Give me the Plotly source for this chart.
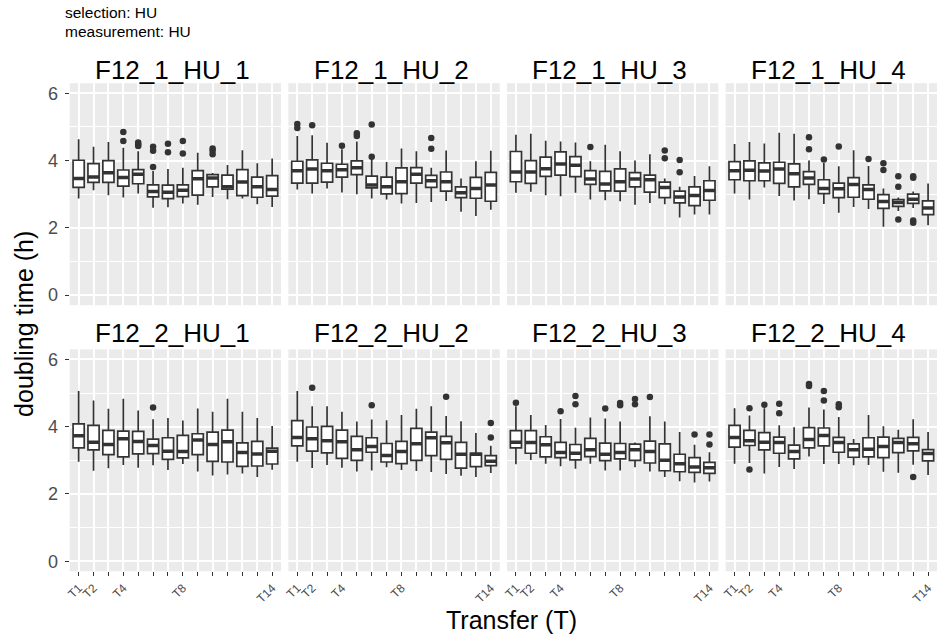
import plotly.graph_objects as go

# ---- data -------------------------------------------------------------
transfers = [f"T{i}" for i in range(1, 15)]
shown_labels = ["T1", "T2", "T4", "T8", "T14"]
panels = ["F12_1_HU_1", "F12_1_HU_2", "F12_1_HU_3", "F12_1_HU_4",
          "F12_2_HU_1", "F12_2_HU_2", "F12_2_HU_3", "F12_2_HU_4"]

# whisker ends, quartiles and medians of doubling time (h), one row per panel
upper_whisker = [
    [4.63, 4.41, 4.55, 4.38, 4.28, 3.69, 3.75, 3.79, 4.23, 3.63, 3.87, 4.31, 3.92, 4.06],
    [4.73, 4.75, 4.53, 4.34, 4.57, 4.04, 3.96, 4.36, 4.28, 3.79, 4.30, 3.47, 3.98, 4.29],
    [4.77, 4.80, 4.59, 4.57, 4.54, 3.98, 4.47, 4.28, 4.00, 4.19, 3.47, 3.22, 3.54, 3.83],
    [4.49, 4.55, 4.51, 4.83, 4.80, 4.00, 3.93, 3.83, 4.31, 3.84, 3.17, 2.90, 3.08, 3.32],
    [5.06, 4.78, 4.53, 4.83, 4.48, 4.22, 4.26, 4.18, 4.54, 4.44, 4.83, 4.44, 4.26, 4.02],
    [5.06, 4.61, 4.61, 4.44, 4.15, 4.21, 4.19, 4.35, 4.53, 4.61, 4.32, 4.16, 3.81, 3.43],
    [4.61, 4.35, 4.05, 4.23, 3.97, 4.27, 4.24, 4.15, 3.53, 4.31, 4.15, 3.84, 3.46, 3.24],
    [4.55, 4.33, 4.55, 4.04, 3.98, 4.57, 4.51, 4.29, 3.63, 4.35, 4.01, 3.91, 4.22, 3.84],
]
q3 = [
    [4.01, 3.91, 4.00, 3.72, 3.73, 3.28, 3.27, 3.28, 3.70, 3.58, 3.57, 3.73, 3.51, 3.55],
    [3.98, 4.02, 3.92, 3.89, 3.99, 3.54, 3.51, 3.78, 3.79, 3.56, 3.66, 3.22, 3.50, 3.65],
    [4.27, 4.00, 4.10, 4.26, 4.12, 3.70, 3.68, 3.75, 3.64, 3.57, 3.36, 3.09, 3.22, 3.40],
    [3.97, 3.99, 3.93, 3.95, 3.90, 3.67, 3.43, 3.33, 3.49, 3.28, 2.99, 2.84, 3.00, 2.80],
    [4.08, 4.04, 3.89, 3.87, 3.86, 3.63, 3.67, 3.74, 3.79, 3.84, 3.90, 3.52, 3.56, 3.36],
    [4.18, 3.99, 4.01, 3.90, 3.71, 3.67, 3.50, 3.56, 3.95, 3.84, 3.71, 3.53, 3.21, 3.14],
    [3.88, 3.88, 3.70, 3.53, 3.47, 3.65, 3.51, 3.50, 3.48, 3.57, 3.49, 3.18, 3.08, 2.94],
    [4.04, 3.89, 3.82, 3.69, 3.45, 3.97, 3.96, 3.68, 3.49, 3.67, 3.69, 3.65, 3.68, 3.32],
]
median = [
    [3.47, 3.51, 3.64, 3.50, 3.59, 3.08, 3.06, 3.12, 3.46, 3.48, 3.22, 3.36, 3.22, 3.14],
    [3.70, 3.75, 3.70, 3.73, 3.79, 3.27, 3.22, 3.37, 3.59, 3.40, 3.37, 3.04, 3.17, 3.27],
    [3.66, 3.66, 3.76, 3.90, 3.86, 3.45, 3.30, 3.37, 3.45, 3.43, 3.20, 2.92, 2.96, 3.11],
    [3.70, 3.71, 3.69, 3.75, 3.61, 3.48, 3.17, 3.16, 3.29, 3.14, 2.78, 2.75, 2.85, 2.59],
    [3.73, 3.54, 3.47, 3.64, 3.56, 3.44, 3.27, 3.26, 3.60, 3.47, 3.55, 3.23, 3.19, 3.27],
    [3.68, 3.64, 3.58, 3.55, 3.31, 3.41, 3.14, 3.26, 3.49, 3.67, 3.52, 3.18, 3.18, 2.97],
    [3.54, 3.53, 3.46, 3.23, 3.21, 3.31, 3.18, 3.23, 3.31, 3.26, 3.00, 2.90, 2.80, 2.78],
    [3.68, 3.58, 3.54, 3.53, 3.26, 3.62, 3.74, 3.53, 3.31, 3.33, 3.41, 3.53, 3.49, 3.20],
]
q1 = [
    [3.20, 3.35, 3.35, 3.24, 3.31, 2.92, 2.87, 2.93, 2.97, 3.22, 3.15, 2.96, 2.91, 2.94],
    [3.33, 3.33, 3.36, 3.51, 3.58, 3.19, 3.01, 3.02, 3.33, 3.20, 3.09, 2.90, 2.88, 2.79],
    [3.37, 3.32, 3.53, 3.57, 3.52, 3.29, 3.10, 3.09, 3.22, 3.06, 2.90, 2.74, 2.66, 2.82],
    [3.43, 3.40, 3.40, 3.32, 3.22, 3.29, 3.02, 2.90, 2.91, 2.85, 2.58, 2.64, 2.73, 2.39],
    [3.37, 3.31, 3.17, 3.10, 3.19, 3.20, 3.03, 3.07, 3.17, 2.97, 2.95, 2.82, 2.83, 2.89],
    [3.43, 3.27, 3.22, 3.06, 3.00, 3.24, 2.95, 2.90, 3.00, 3.14, 3.03, 2.77, 2.81, 2.84],
    [3.37, 3.21, 3.10, 3.08, 3.01, 3.11, 2.99, 3.04, 3.00, 2.92, 2.69, 2.66, 2.64, 2.61],
    [3.39, 3.44, 3.31, 3.21, 3.04, 3.37, 3.43, 3.24, 3.09, 3.10, 3.08, 3.23, 3.28, 2.98],
]
lower_whisker = [
    [2.87, 3.12, 2.97, 2.90, 3.02, 2.60, 2.61, 2.72, 2.69, 2.92, 2.85, 2.87, 2.70, 2.62],
    [3.14, 3.02, 3.17, 3.05, 3.00, 2.87, 2.84, 2.72, 2.74, 2.77, 2.80, 2.48, 2.35, 2.54],
    [3.04, 3.07, 2.97, 2.94, 3.04, 2.84, 2.82, 2.79, 2.69, 2.74, 2.70, 2.31, 2.40, 2.40],
    [3.02, 2.84, 3.20, 2.95, 2.81, 2.85, 2.71, 2.45, 2.62, 2.56, 2.03, 2.50, 2.59, 2.08],
    [2.96, 2.69, 2.76, 2.86, 2.78, 2.85, 2.71, 2.89, 2.67, 2.55, 2.58, 2.61, 2.50, 2.72],
    [2.96, 2.77, 2.86, 2.78, 2.67, 2.70, 2.79, 2.71, 2.68, 2.65, 2.59, 2.54, 2.50, 2.62],
    [2.88, 3.01, 2.90, 2.82, 2.75, 2.90, 2.70, 2.70, 2.79, 2.67, 2.50, 2.38, 2.34, 2.37],
    [2.90, 2.92, 2.61, 2.80, 2.74, 3.11, 2.89, 2.89, 2.85, 2.86, 2.66, 2.63, 2.87, 2.56],
]
# outlying observations per panel, keyed by transfer
outliers = [
    {"T4": [4.85, 4.58], "T5": [4.54, 4.48, 4.43], "T6": [4.41, 4.29, 3.81],
     "T7": [4.50, 4.25], "T8": [4.58, 4.21], "T10": [4.36, 4.29, 4.19]},
    {"T1": [5.09, 4.97], "T2": [5.05], "T4": [4.44], "T5": [4.81, 4.73],
     "T6": [5.07, 4.11], "T10": [4.67, 4.35]},
    {"T6": [4.40], "T11": [4.30, 4.07], "T12": [4.02, 3.65]},
    {"T6": [4.69, 4.34], "T7": [4.03], "T8": [4.42], "T10": [4.05],
     "T11": [3.92, 3.72], "T12": [3.53, 3.22, 2.25], "T13": [3.53, 3.49, 2.22, 2.15]},
    {"T6": [4.57]},
    {"T2": [5.16], "T6": [4.64], "T11": [4.89], "T14": [4.11, 3.68]},
    {"T1": [4.71], "T4": [4.46], "T5": [4.91, 4.67], "T7": [4.54], "T8": [4.70, 4.64],
     "T9": [4.82, 4.67], "T10": [4.88], "T13": [3.77], "T14": [3.77, 3.47]},
    {"T2": [4.55, 2.73], "T3": [4.65], "T4": [4.68, 4.40], "T6": [5.27, 5.21],
     "T7": [5.06, 4.78], "T8": [4.67, 4.58], "T13": [2.50]},
]
y_ticks = [0, 2, 4, 6]

# ---- layout geometry (pixels) ------------------------------------------
W, H = 937, 639
FONT = "Liberation Sans, Arial, Helvetica, sans-serif"
INK = "#333333"
BOX_W = 0.75

panel_left0, panel_gap = 66.0, 7.3
panel_w = (W - panel_left0 - 3 * panel_gap) / 4
row_tops = [83.2, 349.3]
panel_h = 222.0


def px_x(px):
    return min(max(px / W, 0.0), 1.0)


def px_y(py):
    return min(max(1 - py / H, 0.0), 1.0)


positions = list(range(1, len(transfers) + 1))
ticktext = [t if t in shown_labels else "" for t in transfers]

fig = go.Figure()
layout = dict(
    width=W, height=H, autosize=False,
    margin=dict(l=0, r=0, t=0, b=0, pad=0),
    paper_bgcolor="white", plot_bgcolor="#EBEBEB",
    showlegend=False, boxmode="overlay",
    font=dict(family=FONT, color="black"),
)
annotations = []

for k, name in enumerate(panels):
    row, col = divmod(k, 4)
    ax = "" if k == 0 else str(k + 1)
    xa, ya = "x" + ax, "y" + ax

    left = panel_left0 + col * (panel_w + panel_gap)
    right = left + panel_w
    top = row_tops[row]
    bottom = top + panel_h

    layout["xaxis" + ax] = dict(
        domain=[px_x(left), px_x(right)], anchor=ya,
        range=[0.4, len(transfers) + 0.6], fixedrange=True,
        tickmode="array", tickvals=positions, ticktext=ticktext,
        showticklabels=(row == 1), ticks="outside" if row == 1 else "",
        ticklen=4, tickwidth=1.2, tickcolor=INK,
        tickangle=-45, tickfont=dict(size=12, color="#4D4D4D", family=FONT),
        showgrid=True, gridcolor="white", gridwidth=1.8,
        zeroline=False, showline=False,
    )
    layout["yaxis" + ax] = dict(
        domain=[px_y(bottom), px_y(top)], anchor=xa,
        range=[-0.3, 6.3], fixedrange=True,
        tickmode="array", tickvals=y_ticks,
        showticklabels=(col == 0), ticks="outside" if col == 0 else "",
        ticklen=4, tickwidth=1.2, tickcolor=INK, ticklabelstandoff=3,
        tickfont=dict(size=18, color="#4D4D4D", family=FONT),
        showgrid=True, gridcolor="white", gridwidth=1.8,
        minor=dict(dtick=1, tick0=0, showgrid=True, gridcolor="white",
                   gridwidth=0.9, ticks=""),
        zeroline=False, showline=False,
    )

    # boxes from the summary statistics
    fig.add_trace(go.Box(
        x=positions, q1=q1[k], median=median[k], q3=q3[k],
        lowerfence=lower_whisker[k], upperfence=upper_whisker[k],
        width=BOX_W, fillcolor="white", line=dict(color=INK, width=1.7),
        whiskerwidth=0, boxpoints=False, xaxis=xa, yaxis=ya, name=name,
    ))

    # emphasised median bars
    mx, my = [], []
    for p, m in zip(positions, median[k]):
        mx += [p - BOX_W / 2, p + BOX_W / 2, None]
        my += [m, m, None]
    fig.add_trace(go.Scatter(
        x=mx, y=my, mode="lines", line=dict(color=INK, width=3.5),
        xaxis=xa, yaxis=ya, hoverinfo="skip",
    ))

    # outlying points
    ox, oy = [], []
    for t, vals in outliers[k].items():
        p = positions[transfers.index(t)]
        ox += [p] * len(vals)
        oy += vals
    fig.add_trace(go.Scatter(
        x=ox, y=oy, mode="markers",
        marker=dict(color=INK, size=6.5, line=dict(width=0)),
        xaxis=xa, yaxis=ya,
    ))

    # facet strip label
    strip_y = 70 if row == 0 else 333
    annotations.append(dict(
        text=name, x=px_x((left + right) / 2 - 3), y=px_y(strip_y),
        xref="paper", yref="paper", xanchor="center", yanchor="middle",
        showarrow=False, font=dict(size=26, color="black", family=FONT),
    ))

# header lines
annotations.append(dict(
    text="selection: HU", x=px_x(59), y=px_y(12), xref="paper", yref="paper",
    xanchor="left", yanchor="middle", showarrow=False,
    font=dict(size=15.5, color="black", family=FONT)))
annotations.append(dict(
    text="measurement: HU", x=px_x(59), y=px_y(31), xref="paper", yref="paper",
    xanchor="left", yanchor="middle", showarrow=False,
    font=dict(size=15.5, color="black", family=FONT)))

# axis titles
annotations.append(dict(
    text="Transfer (T)", x=px_x(510), y=px_y(620), xref="paper", yref="paper",
    xanchor="center", yanchor="middle", showarrow=False,
    font=dict(size=25, color="black", family=FONT)))
annotations.append(dict(
    text="doubling time (h)", x=px_x(20), y=px_y(324), xref="paper", yref="paper",
    xanchor="center", yanchor="middle", textangle=-90, showarrow=False,
    font=dict(size=25, color="black", family=FONT)))

layout["annotations"] = annotations
fig.update_layout(**layout)

fig.write_html("out.html")
